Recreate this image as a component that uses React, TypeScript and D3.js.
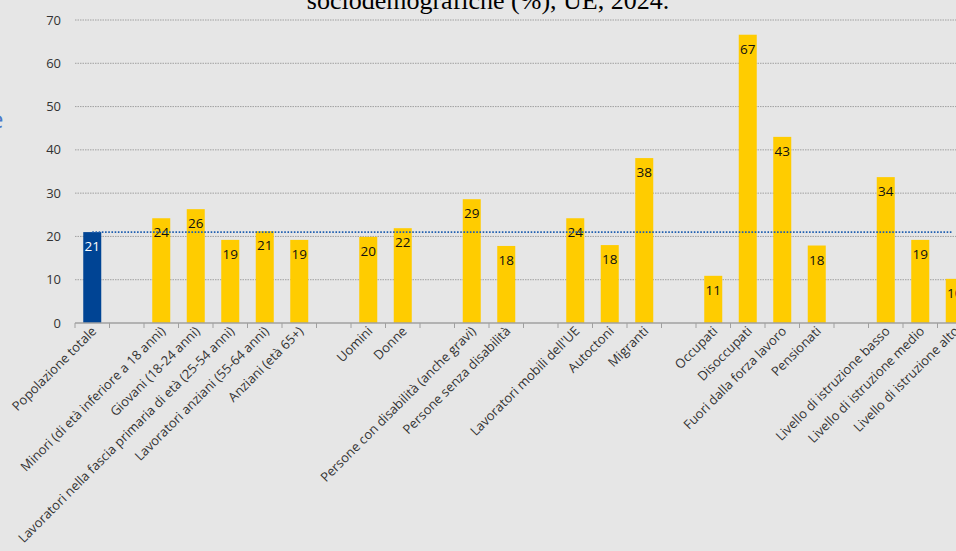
import React from "react";
import * as d3 from "d3";

const categories: string[] = [
  "Popolazione totale",
  "",
  "Minori (di età inferiore a 18 anni)",
  "Giovani (18-24 anni)",
  "Lavoratori nella fascia primaria di età (25-54 anni)",
  "Lavoratori anziani (55-64 anni)",
  "Anziani (età 65+)",
  " ",
  "Uomini",
  "Donne",
  "  ",
  "Persone con disabilità (anche gravi)",
  "Persone senza disabilità",
  "   ",
  "Lavoratori mobili dell'UE",
  "Autoctoni",
  "Migranti",
  "    ",
  "Occupati",
  "Disoccupati",
  "Fuori dalla forza lavoro",
  "Pensionati",
  "     ",
  "Livello di istruzione basso",
  "Livello di istruzione medio",
  "Livello di istruzione alto",
];

const values: (number | null)[] = [
  21.0, null, 24.2, 26.3, 19.2, 21.2, 19.2, null, 19.9, 21.9, null, 28.6, 17.8, null,
  24.2, 18.0, 38.1, null, 10.9, 66.6, 43.0, 17.9, null, 33.7, 19.2, 10.2,
];

const average = 21.0;
const yTicks = [0, 10, 20, 30, 40, 50, 60, 70];
const title = "sociodemografiche (%), UE, 2024.";

const W = 956;
const H = 551;

export default function App() {
  const x = d3.scaleBand<string>().domain(categories).range([75, 75 + 34.5 * categories.length]).paddingInner(0).paddingOuter(0);
  const y = d3.scaleLinear().domain([0, 70]).range([323, 20]);
  const barW = 18;
  const font = "'Open Sans', 'Noto Sans', sans-serif";
  const first = x(categories[0])! + x.bandwidth() / 2;

  return (
    <svg width={W} height={H} style={{ position: "absolute", left: 0, top: 0, background: "#e6e6e6" }}>
      <rect x={0} y={0} width={W} height={H} fill="#e6e6e6" />
      <text x={488} y={9} textAnchor="middle" fontFamily="'Liberation Serif', 'Times New Roman', serif" fontSize={26} fill="#000">
        {title}
      </text>
      <text x={-10} y={128} fontFamily={font} fontSize={24} fill="#4a78c8">e</text>
      {yTicks.map((t) => (
        <g key={t}>
          {t > 0 && (
            <line x1={75} x2={W} y1={y(t)} y2={y(t)} stroke="#a0a0a0" strokeWidth={1} strokeDasharray="1.5 1" />
          )}
          <text x={61} y={y(t)} dy="0.35em" textAnchor="end" fontFamily={font} fontSize={13} fill="#333">
            {t}
          </text>
        </g>
      ))}
      {categories.map((c, i) => {
        const v = values[i];
        if (v == null) return null;
        const cx = x(c)! + x.bandwidth() / 2;
        const isTotal = i === 0;
        return (
          <g key={i}>
            <rect x={cx - barW / 2} y={y(v)} width={barW} height={y(0) - y(v)} fill={isTotal ? "#004494" : "#ffcc00"} />
            <text x={cx} y={y(v) + 19} textAnchor="middle" fontFamily={font} fontSize={13.5} fill={isTotal ? "#ffffff" : "#111"}>
              {Math.round(v)}
            </text>
          </g>
        );
      })}
      <line x1={first} x2={952} y1={y(average)} y2={y(average)} stroke="#1f5fb0" strokeWidth={1.6} strokeDasharray="1.6 1.6" />
      <line x1={75} x2={W} y1={y(0)} y2={y(0)} stroke="#a0a0a0" strokeWidth={1.5} />
      {categories.map((c, i) => (
        <line key={"t" + i} x1={x(c)!} x2={x(c)!} y1={y(0)} y2={y(0) + 5} stroke="#a0a0a0" strokeWidth={1} />
      ))}
      {categories.map((c, i) => {
        if (!c.trim()) return null;
        const cx = x(c)! + x.bandwidth() / 2 + 5;
        const ty = 332;
        return (
          <text key={"l" + i} transform={`translate(${cx},${ty}) rotate(-45)`} textAnchor="end" fontFamily={font} fontSize={13} fill="#333">
            {c}
          </text>
        );
      })}
    </svg>
  );
}
